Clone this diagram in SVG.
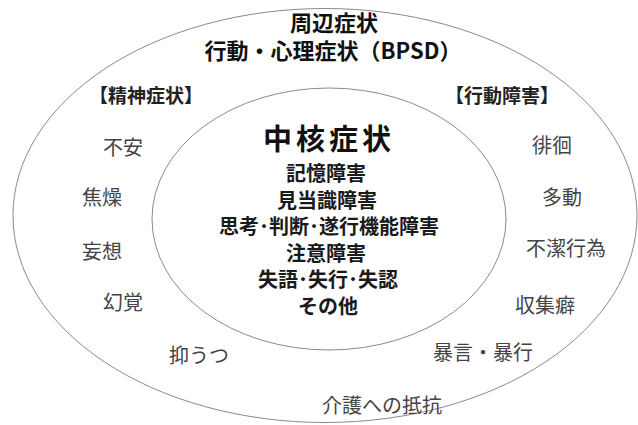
<svg xmlns="http://www.w3.org/2000/svg" width="638" height="425" viewBox="0 0 638 425">
<style>
.ring{fill:none;stroke:#8a8a8a;stroke-width:1}
text{font-family:"Noto Sans CJK JP","Noto Sans CJK SC",sans-serif;text-anchor:middle}
.h{font-size:22px;font-weight:bold;fill:#111}
.cat{font-size:19px;font-weight:bold;fill:#222}
.title{font-size:29px;font-weight:bold;fill:#111;letter-spacing:4px}
.core{font-size:20px;font-weight:bold;fill:#1a1a1a}
.item{font-size:20px;fill:#444}
</style>
<rect width="638" height="425" fill="#fff"/>
<g id="outer">
<ellipse class="ring" cx="325" cy="215.5" rx="312" ry="207"/>
<text class="h" x="334" y="31">周辺症状</text>
<text class="h" x="333" y="58.5">行動・心理症状（BPSD）</text>
</g>
<g id="inner">
<ellipse class="ring" cx="329" cy="219" rx="177" ry="131"/>
<text class="title" x="329" y="150">中核症状</text>
<text class="core" x="326" y="181">記憶障害</text>
<text class="core" x="327" y="207.5">見当識障害</text>
<text class="core" x="329" y="234">思考･判断･遂行機能障害</text>
<text class="core" x="326" y="260.5">注意障害</text>
<text class="core" x="328" y="287">失語･失行･失認</text>
<text class="core" x="328" y="313.5">その他</text>
</g>
<g id="seishin">
<text class="cat" x="146" y="103">【精神症状】</text>
<text class="item" x="123" y="155">不安</text>
<text class="item" x="102" y="205">焦燥</text>
<text class="item" x="102" y="259">妄想</text>
<text class="item" x="123" y="310">幻覚</text>
<text class="item" x="199" y="363">抑うつ</text>
</g>
<g id="koudou">
<text class="cat" x="502" y="103">【行動障害】</text>
<text class="item" x="552" y="153">徘徊</text>
<text class="item" x="562" y="205">多動</text>
<text class="item" x="566" y="256">不潔行為</text>
<text class="item" x="545" y="313">収集癖</text>
<text class="item" x="483" y="360">暴言・暴行</text>
<text class="item" x="382" y="413">介護への抵抗</text>
</g>
<g id="connectors"></g>
</svg>
